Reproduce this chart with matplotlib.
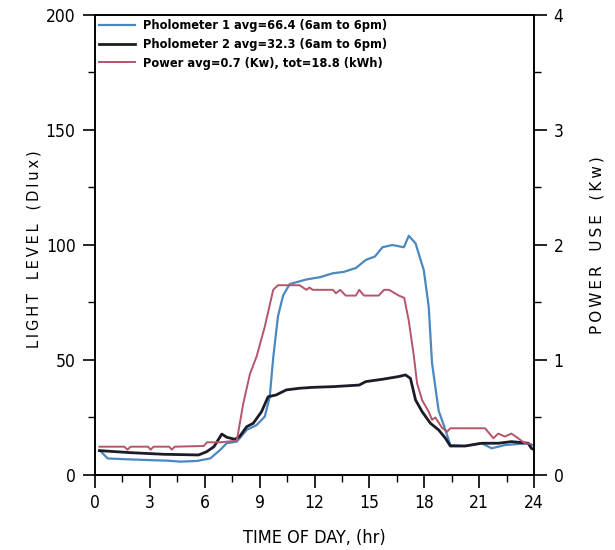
import matplotlib.pyplot as plt
from matplotlib.ticker import MultipleLocator

# photometer 1 (light level, Dlux)
hr_p1 = [0.33, 0.69, 1.5, 2.86, 4.0, 4.67, 5.57, 6.3, 6.84, 7.2, 7.75, 8.29, 8.83, 9.28,
         9.55, 9.74, 10.0, 10.28, 10.64, 11.55, 12.3, 13.0, 13.6, 14.26, 14.8, 15.3, 15.71,
         16.25, 16.88, 17.15, 17.52, 17.97, 18.24, 18.42, 18.78, 19.15, 19.42, 20.23,
         21.13, 21.68, 22.4, 23.67, 23.9]
p1 = [10.1, 7.2, 6.9, 6.5, 6.2, 5.8, 6.1, 7.2, 10.9, 13.8, 14.5, 19.6, 21.7, 25.4,
      34, 51, 69, 78, 83, 85, 86, 87.7, 88.3, 90, 93.5, 95, 99,
      100, 99, 104, 100.7, 89, 73, 48.6, 28, 19.6, 13, 12.6,
      13.8, 11.6, 13, 13.8, 13]

# photometer 2 (light level, Dlux)
hr_p2 = [0.24, 1.95, 3.76, 5.66, 6.1, 6.5, 6.93, 7.2, 7.65, 7.9, 8.29, 8.65, 9.1, 9.46,
         9.9, 10.46, 11.18, 11.9, 13.0, 14.44, 14.8, 15.7, 16.6, 16.97, 17.24, 17.52,
         17.88, 18.33, 18.78, 19.15, 19.42, 20.23, 21.13, 22.04, 22.76, 23.67, 23.85, 24.0]
p2 = [10.6, 9.7, 9.0, 8.7, 10.1, 12.3, 17.8, 16.4, 15.5, 16.7, 21, 22.5, 27.5, 34,
      34.8, 37, 37.7, 38.1, 38.4, 39.1, 40.6, 41.6, 42.8, 43.5, 42, 32.6,
      27.5, 22.5, 19.6, 16, 12.6, 12.6, 13.8, 13.8, 14.5, 13.8, 11.6, 11.0]

# power (Kw)
hr_pw = [0.24, 1.6, 1.77, 1.95, 2.9, 3.04, 3.2, 4.05, 4.2, 4.35, 5.94, 6.12, 6.84, 7.75,
         8.1, 8.47, 8.83, 9.28, 9.74, 10.0, 10.46, 11.18, 11.55, 11.72, 11.9, 12.26, 13.0,
         13.17, 13.4, 13.7, 14.26, 14.44, 14.7, 15.5, 15.8, 16.07, 16.6, 16.9, 17.15,
         17.43, 17.6, 17.88, 18.24, 18.42, 18.6, 18.97, 19.24, 19.42, 21.32, 21.77, 22.04,
         22.4, 22.76, 23.12, 23.49, 23.8]
pw = [0.246, 0.246, 0.22, 0.246, 0.246, 0.22, 0.246, 0.246, 0.22, 0.246, 0.252, 0.284, 0.284, 0.298,
      0.62, 0.88, 1.03, 1.29, 1.61, 1.65, 1.65, 1.65, 1.61, 1.63, 1.61, 1.61, 1.61,
      1.58, 1.61, 1.56, 1.56, 1.61, 1.56, 1.56, 1.61, 1.61, 1.56, 1.54, 1.34,
      1.03, 0.80, 0.65, 0.55, 0.48, 0.50, 0.41, 0.376, 0.406, 0.406, 0.32, 0.36,
      0.334, 0.36, 0.32, 0.276, 0.27]

legend_labels = ['Pholometer 1 avg=66.4 (6am to 6pm)',
                 'Pholometer 2 avg=32.3 (6am to 6pm)',
                 'Power avg=0.7 (Kw), tot=18.8 (kWh)']

c_blue = '#4a88c0'
c_black = '#1c1c28'
c_red = '#b5546a'

# narrow lettering like the plotter font
plt.rcParams['font.family'] = 'DejaVu Sans'
plt.rcParams['font.stretch'] = 'condensed'


def spaced(s):
    # letter-spaced label text
    return '   '.join('\u2009'.join(w) for w in s.split(' '))


fig = plt.figure(figsize=(6.15, 5.5), dpi=100)
ax = fig.add_axes([0.1545, 0.1364, 0.714, 0.8364])
ax2 = ax.twinx()

l1, = ax.plot(hr_p1, p1, color=c_blue, lw=1.6)
l2, = ax.plot(hr_p2, p2, color=c_black, lw=2.0)
l3, = ax2.plot(hr_pw, pw, color=c_red, lw=1.4)

ax.set_xlim(0, 24)
ax.set_ylim(0, 200)
ax2.set_ylim(0, 4)
ax.xaxis.set_major_locator(MultipleLocator(3))
ax.xaxis.set_minor_locator(MultipleLocator(1.5))
ax.yaxis.set_major_locator(MultipleLocator(50))
ax.yaxis.set_minor_locator(MultipleLocator(25))
ax2.yaxis.set_major_locator(MultipleLocator(1))
ax2.yaxis.set_minor_locator(MultipleLocator(0.5))

for a in (ax, ax2):
    a.tick_params(which='major', direction='out', length=9, width=1.2, labelsize=12.5, pad=5)
    a.tick_params(which='minor', direction='out', length=5, width=1.0)
    for s in a.spines.values():
        s.set_linewidth(1.2)

ax.set_xlabel('TIME OF DAY, (hr)', fontsize=13, labelpad=12)
ax.set_ylabel(spaced('LIGHT LEVEL (Dlux)'), fontsize=10.5, fontstretch='normal')
ax.yaxis.set_label_coords(-0.122, 0.49)
ax2.set_ylabel(spaced('POWER USE (Kw)'), fontsize=11, fontstretch='normal')
ax2.yaxis.set_label_coords(1.125, 0.50)

ax.legend([l1, l2, l3], legend_labels,
          loc='upper left', frameon=False, handlelength=2.8,
          prop={'size': 9.2, 'weight': 'bold', 'stretch': 'condensed'},
          borderaxespad=0.05, borderpad=0.3, labelspacing=0.45, handletextpad=0.6)

fig.savefig('out.png', dpi=100)
